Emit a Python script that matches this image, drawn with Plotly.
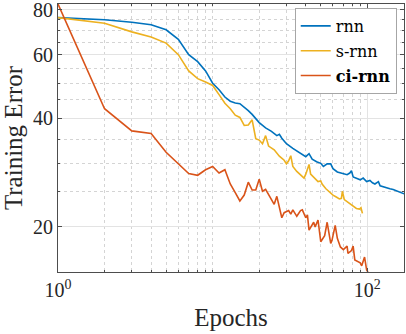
import numpy as np
import plotly.graph_objects as go

# epochs / training error
rnn_epochs = [1, 2, 3, 4, 5, 6, 7, 8, 9, 10, 11, 12, 13, 14, 15, 16, 17, 18, 19, 20,
              22, 24, 26, 27, 28, 30, 33, 36, 38, 40, 42, 44, 47, 50, 52, 55, 58, 60,
              64, 70, 74, 77, 79, 81, 85, 90, 94, 99, 104, 108, 112, 118, 121, 127,
              133, 140, 147, 155, 162, 168, 173]
rnn_error = [76.0, 75.0, 73.8, 72.6, 70.3, 66.2, 60.0, 57.4, 54.1, 50.0, 48.0, 45.8,
             44.6, 44.1, 43.9, 43.0, 42.0, 41.0, 39.8, 38.9, 37.6, 36.8, 35.8, 36.1,
             35.2, 34.0, 33.0, 32.3, 31.8, 31.3, 31.9, 30.8, 30.3, 30.0, 29.4, 29.9,
             29.9, 29.0, 28.4, 28.1, 27.9, 28.2, 28.6, 27.5, 27.3, 27.0, 27.3, 26.7,
             26.9, 26.5, 26.3, 26.7, 26.0, 25.8, 25.6, 25.5, 25.4, 25.2, 25.0, 24.85,
             24.7]

srnn_epochs = [1, 2, 3, 4, 5, 6, 7, 8, 9, 10, 11, 12, 13, 14, 15, 16, 17, 18, 19, 20,
               21, 22, 23, 24, 25, 27, 29, 30, 31, 32, 33, 35, 37, 39, 40, 42, 43, 45,
               47, 48, 50, 51, 54, 57, 60, 63, 66, 68, 69, 71, 74, 77, 81, 85, 89, 91,
               93]
srnn_error = [76.0, 73.3, 69.4, 67.2, 64.6, 60.0, 54.1, 51.5, 50.4, 49.3, 46.5, 44.0,
              42.5, 40.8, 40.2, 38.2, 38.3, 39.6, 35.1, 34.8, 34.0, 35.8, 33.5, 33.0,
              32.7, 31.4, 30.6, 29.9, 30.5, 31.5, 29.4, 28.5, 27.9, 27.3, 28.0, 29.8,
              28.0, 27.4, 27.0, 26.7, 26.8, 26.3, 25.5, 24.9, 24.5, 24.2, 23.9, 24.0,
              25.1, 23.8, 23.5, 23.2, 22.9, 22.5, 22.4, 22.6, 21.8]

cirnn_epochs = [1, 2, 3, 4, 5, 6, 7, 8, 9, 10, 11, 12, 13, 14, 15, 16, 17, 18, 19, 20,
                21, 22, 23, 24, 25, 26, 28, 29, 31, 32, 33, 35, 37, 38, 40, 41, 42, 45,
                46, 48, 50, 53, 55, 58, 59, 62, 64, 67, 70, 74, 75, 79, 81, 83, 87, 90,
                92, 96, 99, 101]
cirnn_error = [82.9, 42.5, 36.9, 36.3, 32.2, 30.0, 28.1, 27.8, 28.8, 29.4, 28.2, 28.8,
               26.3, 24.9, 23.6, 24.5, 26.6, 25.3, 25.3, 27.1, 25.1, 25.4, 24.6, 23.8,
               23.1, 24.3, 21.2, 21.9, 22.2, 21.7, 22.3, 21.4, 22.2, 22.3, 21.2, 21.6,
               19.6, 20.6, 20.0, 20.9, 18.2, 18.9, 20.6, 18.0, 18.3, 20.2, 18.6, 17.6,
               17.3, 17.7, 16.9, 17.2, 17.7, 16.2, 16.0, 15.9, 15.6, 16.5, 15.2, 15.0]

series = [
    ("rnn", rnn_epochs, rnn_error, "#0072BD"),
    ("s-rnn", srnn_epochs, srnn_error, "#EDB120"),
    ("<b>ci-rnn</b>", cirnn_epochs, cirnn_error, "#D95319"),
]

x_ticks = [1, 100]
x_ticktext = ["10<sup>0</sup>", "10<sup>2</sup>"]
x_minor = [2, 3, 4, 5, 6, 7, 8, 9, 10, 20, 30, 40, 50, 60, 70, 80, 90]
y_ticks = [20, 40, 60, 80]
y_minor = [15, 25, 30, 35, 45, 50, 55, 65, 70, 75]

font = "Liberation Serif, DejaVu Serif, serif"

fig = go.Figure()
for i, (name, x, y, color) in enumerate(series):
    fig.add_trace(go.Scatter(x=x, y=y, mode="lines", name=name, legendgroup=f"g{i}",
                             line=dict(color=color, width=1.6)))

axis_common = dict(
    type="log",
    showline=True,
    linecolor="#4d4d4d",
    linewidth=1,
    mirror="ticks",
    ticks="inside",
    ticklen=4,
    tickcolor="#4d4d4d",
    showgrid=True,
    gridcolor="#e3e3e3",
    gridwidth=1,
    zeroline=False,
    ticklabeloverflow="allow",
    tickfont=dict(family=font, size=20, color="#262626"),
)

fig.update_xaxes(
    **axis_common,
    range=[0, np.log10(172.7)],
    tickmode="array",
    tickvals=x_ticks,
    ticktext=x_ticktext,
    minor=dict(tickmode="array", tickvals=x_minor, ticks="inside", ticklen=2,
               tickcolor="#4d4d4d", showgrid=True, gridcolor="#d4d4d4",
               griddash="dot", gridwidth=1),
    title=dict(text="Epochs", font=dict(family=font, size=25, color="#262626"),
               standoff=8),
)
fig.update_yaxes(
    **axis_common,
    range=[np.log10(15.0), np.log10(82.9)],
    tickmode="array",
    tickvals=y_ticks,
    ticktext=[str(v) for v in y_ticks],
    minor=dict(tickmode="array", tickvals=y_minor, ticks="inside", ticklen=2,
               tickcolor="#4d4d4d", showgrid=True, gridcolor="#d4d4d4",
               griddash="dot", gridwidth=1),
    title=dict(text="Training Error", font=dict(family=font, size=25, color="#262626"),
               standoff=6),
)

fig.update_layout(
    width=406,
    height=334,
    margin=dict(l=58, r=2, t=4, b=62, autoexpand=False),
    plot_bgcolor="white",
    paper_bgcolor="white",
    showlegend=True,
    legend=dict(
        x=0.979, y=0.985, xanchor="right", yanchor="top",
        bgcolor="white", bordercolor="#a6a6a6", borderwidth=1,
        font=dict(family="DejaVu Serif, serif", size=16, color="#000000"),
        tracegroupgap=1,
    ),
)

# the page body has a default 8px margin; drop it so the figure sits at 0,0
fig.write_html("out.html", config={"displayModeBar": False},
               post_script="document.body.style.margin='0';")
